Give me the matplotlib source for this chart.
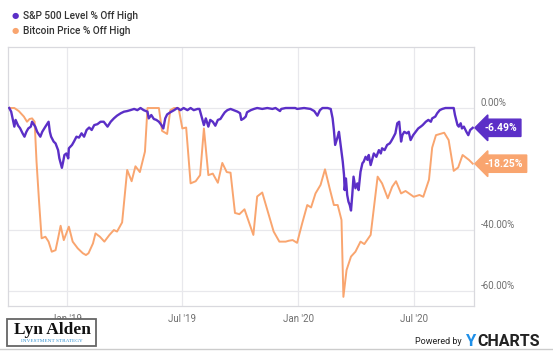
import numpy as np
import pandas as pd
import matplotlib
matplotlib.use("Agg")
import matplotlib.pyplot as plt
from matplotlib.patches import Rectangle

plt.rcParams['font.family'] = ['Roboto', 'DejaVu Sans']

# S&P 500 level, % off high
spx_dates = [
    "2018-10-02", "2018-10-05", "2018-10-10", "2018-10-12", "2018-10-16", "2018-10-19",
    "2018-10-23", "2018-10-26", "2018-10-29", "2018-11-01", "2018-11-05", "2018-11-07",
    "2018-11-12", "2018-11-15", "2018-11-20", "2018-11-23", "2018-11-28", "2018-12-03",
    "2018-12-05", "2018-12-07", "2018-12-11", "2018-12-14", "2018-12-18", "2018-12-20",
    "2018-12-24", "2018-12-26", "2018-12-28", "2018-12-31", "2019-01-03", "2019-01-04",
    "2019-01-09", "2019-01-12", "2019-01-16", "2019-01-20", "2019-01-24", "2019-01-28",
    "2019-02-01", "2019-02-05", "2019-02-09", "2019-02-13", "2019-02-18", "2019-02-23",
    "2019-02-28", "2019-03-06", "2019-03-11", "2019-03-16", "2019-03-21", "2019-03-27",
    "2019-04-01", "2019-04-06", "2019-04-11", "2019-04-17", "2019-04-22", "2019-04-27",
    "2019-05-02", "2019-05-08", "2019-05-10", "2019-05-14", "2019-05-18", "2019-05-22",
    "2019-05-26", "2019-05-30", "2019-06-02", "2019-06-05", "2019-06-08", "2019-06-13",
    "2019-06-19", "2019-06-24", "2019-06-29", "2019-07-04", "2019-07-10", "2019-07-15",
    "2019-07-20", "2019-07-26", "2019-07-29", "2019-08-02", "2019-08-05", "2019-08-08",
    "2019-08-12", "2019-08-15", "2019-08-19", "2019-08-23", "2019-08-27", "2019-08-31",
    "2019-09-04", "2019-09-07", "2019-09-11", "2019-09-16", "2019-09-21", "2019-09-27",
    "2019-10-01", "2019-10-03", "2019-10-07", "2019-10-10", "2019-10-12", "2019-10-18",
    "2019-10-23", "2019-10-28", "2019-11-05", "2019-11-13", "2019-11-21", "2019-11-26",
    "2019-12-03", "2019-12-05", "2019-12-12", "2019-12-20", "2019-12-27", "2019-12-30",
    "2020-01-10", "2020-01-20", "2020-01-26", "2020-01-31", "2020-02-04", "2020-02-08",
    "2020-02-16", "2020-02-21", "2020-02-24", "2020-02-26", "2020-02-28", "2020-03-03",
    "2020-03-05", "2020-03-09", "2020-03-11", "2020-03-13", "2020-03-14", "2020-03-16",
    "2020-03-18", "2020-03-20", "2020-03-22", "2020-03-24", "2020-03-26", "2020-03-28",
    "2020-03-31", "2020-04-03", "2020-04-05", "2020-04-08", "2020-04-11", "2020-04-13",
    "2020-04-16", "2020-04-19", "2020-04-21", "2020-04-24", "2020-04-27", "2020-04-29",
    "2020-05-03", "2020-05-07", "2020-05-10", "2020-05-12", "2020-05-16", "2020-05-20",
    "2020-05-24", "2020-05-26", "2020-05-29", "2020-06-02", "2020-06-05", "2020-06-08",
    "2020-06-11", "2020-06-13", "2020-06-16", "2020-06-20", "2020-06-23", "2020-06-26",
    "2020-06-30", "2020-07-04", "2020-07-08", "2020-07-12", "2020-07-15", "2020-07-20",
    "2020-07-24", "2020-07-28", "2020-07-30", "2020-08-04", "2020-08-07", "2020-08-11",
    "2020-08-15", "2020-08-20", "2020-08-28", "2020-09-02", "2020-09-04", "2020-09-08",
    "2020-09-10", "2020-09-13", "2020-09-15", "2020-09-18", "2020-09-22", "2020-09-25",
    "2020-09-28", "2020-10-02",
]
spx_vals = [
    0.0, -1.2, -6.1, -3.9, -5.8, -6.6,
    -8.3, -9.4, -7.8, -6.7, -6.1, -4.5,
    -6.1, -7.8, -9.4, -7.8, -6.1, -4.5,
    -7.8, -9.4, -11.0, -11.6, -13.8, -16.5,
    -19.6, -17.6, -15.4, -14.9, -16.5, -13.2,
    -12.1, -11.0, -9.4, -9.7, -8.3, -9.4,
    -7.2, -6.4, -7.2, -5.6, -5.3, -4.5,
    -4.5, -6.1, -4.5, -3.4, -2.5, -1.7,
    -1.2, -1.0, -0.7, -0.3, -0.7, 0.0,
    -0.7, -1.2, -3.4, -2.3, -3.6, -3.9,
    -4.5, -5.6, -6.7, -3.4, -2.1, -1.4,
    -0.7, 0.0, -0.7, 0.0, -0.7, 0.0,
    -0.7, -0.3, -0.3, -3.4, -5.6, -3.4,
    -6.1, -3.9, -4.5, -5.8, -3.9, -3.6,
    -2.3, -1.4, -0.7, -0.3, -0.7, -1.2,
    -1.7, -3.9, -3.4, -2.8, -1.4, -0.7,
    -0.3, 0.0, -0.3, 0.0, -0.3, 0.0,
    -1.0, -0.3, 0.0, 0.0, 0.0, -0.3,
    0.0, -0.3, -1.0, -2.5, -0.7, 0.0,
    0.0, -0.3, -3.4, -7.2, -12.1, -9.4,
    -7.8, -14.3, -17.6, -22.0, -26.9, -23.1,
    -28.5, -30.7, -31.8, -33.6, -28.5, -22.5,
    -26.3, -24.7, -26.9, -20.9, -18.1, -17.6,
    -16.0, -17.0, -15.4, -18.7, -16.5, -14.9,
    -16.0, -13.8, -14.9, -13.2, -13.8, -12.1,
    -11.6, -11.0, -9.9, -8.3, -5.0, -4.5,
    -11.0, -8.9, -7.8, -8.3, -7.8, -10.5,
    -8.9, -7.8, -6.7, -6.1, -5.6, -4.5,
    -3.9, -4.5, -3.4, -2.8, -1.7, -0.7,
    -0.3, 0.0, 0.0, 0.0, -2.3, -5.6,
    -6.1, -5.0, -6.7, -6.1, -7.8, -8.9,
    -7.2, -6.49,
]

# Bitcoin price, % off high
btc_dates = [
    "2018-10-02", "2018-10-10", "2018-10-17", "2018-10-25", "2018-10-30", "2018-11-03",
    "2018-11-07", "2018-11-11", "2018-11-14", "2018-11-18", "2018-11-22", "2018-11-28",
    "2018-12-03", "2018-12-08", "2018-12-14", "2018-12-18", "2018-12-22", "2018-12-27",
    "2019-01-04", "2019-01-10", "2019-01-18", "2019-01-26", "2019-01-31", "2019-02-04",
    "2019-02-11", "2019-02-15", "2019-02-22", "2019-03-01", "2019-03-09", "2019-03-16",
    "2019-03-21", "2019-03-29", "2019-04-06", "2019-04-13", "2019-04-19", "2019-04-26",
    "2019-05-04", "2019-05-08", "2019-05-16", "2019-05-26", "2019-05-31", "2019-06-08",
    "2019-06-13", "2019-06-19", "2019-06-26", "2019-07-02", "2019-07-08", "2019-07-15",
    "2019-07-23", "2019-07-30", "2019-08-05", "2019-08-12", "2019-08-19", "2019-08-27",
    "2019-09-03", "2019-09-10", "2019-09-16", "2019-09-23", "2019-09-30", "2019-10-08",
    "2019-10-22", "2019-10-28", "2019-11-05", "2019-11-13", "2019-11-23", "2019-12-02",
    "2019-12-12", "2019-12-17", "2019-12-23", "2019-12-30", "2020-01-07", "2020-01-15",
    "2020-01-21", "2020-01-28", "2020-02-05", "2020-02-12", "2020-02-20", "2020-02-26",
    "2020-03-03", "2020-03-09", "2020-03-12", "2020-03-17", "2020-03-24", "2020-03-31",
    "2020-04-08", "2020-04-14", "2020-04-24", "2020-05-05", "2020-05-12", "2020-05-21",
    "2020-05-28", "2020-06-03", "2020-06-11", "2020-06-18", "2020-07-01", "2020-07-10",
    "2020-07-16", "2020-07-25", "2020-07-30", "2020-08-05", "2020-08-18", "2020-08-25",
    "2020-09-02", "2020-09-09", "2020-09-16", "2020-09-26", "2020-10-02",
]
btc_vals = [
    0.0, 0.0, -1.0, -2.8, -4.5, -3.6,
    -3.4, -4.5, -17.6, -30.7, -42.7, -42.2,
    -43.8, -47.1, -46.6, -42.7, -38.6, -43.3,
    -38.9, -43.8, -46.0, -47.6, -48.2, -47.6,
    -44.4, -41.1, -42.2, -43.8, -41.6, -40.0,
    -40.5, -37.5, -20.3, -24.0, -19.1, -21.0,
    -14.3, 0.0, 0.0, 0.0, -7.5, -8.5,
    -0.7, 0.0, 0.0, -6.7, -6.4, -24.7,
    -24.0, -22.0, -6.7, -22.0, -21.5, -24.5,
    -18.0, -21.0, -21.2, -34.4, -34.8, -33.2,
    -41.6, -29.0, -27.7, -33.4, -40.5, -43.8,
    -43.8, -43.5, -43.3, -44.2, -37.8, -31.8,
    -32.6, -28.0, -25.2, -20.1, -26.9, -31.8,
    -31.8, -36.7, -61.9, -53.1, -48.7, -47.1,
    -43.8, -44.6, -41.6, -22.5, -24.7, -29.6,
    -25.8, -24.0, -28.0, -27.2, -29.1, -28.5,
    -29.1, -23.5, -13.0, -8.9, -8.1, -10.5,
    -20.6, -19.5, -15.4, -17.0, -18.25,
]

series_names = ["S&P 500 Level % Off High", "Bitcoin Price % Off High"]
y_ticks = [0, -20, -40, -60]
y_ticklabels = ["0.00%", "", "-40.00%", "-60.00%"]
x_ticks = ["2019-01-01", "2019-07-01", "2020-01-01", "2020-07-01"]
x_ticklabels = ["Jan '19", "Jul '19", "Jan '20", "Jul '20"]

purple = "#5b2fc7"
orange = "#f9a56f"
grid_c = "#e8e8ec"
tick_c = "#6f6f6f"

spx_x = pd.to_datetime(spx_dates)
btc_x = pd.to_datetime(btc_dates)

fig = plt.figure(figsize=(5.53, 3.53), dpi=100)
ax = fig.add_axes([8 / 553, 1 - 306 / 353, 466 / 553, 259 / 353])

ax.plot(btc_x, btc_vals, color=orange, lw=1.4, zorder=3)
ax.plot(spx_x, spx_vals, color=purple, lw=1.7, zorder=4)

ax.set_ylim(-64.9, 20)
ax.set_xlim(pd.Timestamp("2018-09-30"), pd.Timestamp("2020-10-04"))

ax.set_yticks(y_ticks)
ax.set_yticklabels(y_ticklabels)
ax.yaxis.tick_right()
ax.tick_params(axis="y", length=0, pad=5, labelsize=7, labelcolor=tick_c)
for lab in ax.get_yticklabels():
    lab.set_va("bottom")

ax.set_xticks(pd.to_datetime(x_ticks))
ax.set_xticklabels(x_ticklabels)
ax.tick_params(axis="x", length=0, pad=6, labelsize=7, labelcolor=tick_c)

ax.grid(True, color=grid_c, lw=0.9, zorder=0)
for s in ax.spines.values():
    s.set_color("#d9d9de")
    s.set_linewidth(0.9)

# end-value tags just right of the plot edge
for xs, vs, c in [(spx_x, spx_vals, purple), (btc_x, btc_vals, orange)]:
    ax.annotate(f"{vs[-1]:.2f}%", xy=(xs[-1], vs[-1]), xytext=(8.5, 0),
                textcoords="offset points", color="white", fontsize=7.5,
                fontweight="bold", va="center", ha="left", annotation_clip=False,
                zorder=6,
                bbox=dict(boxstyle="larrow,pad=0.35", fc=c, ec=c))

# legend
for i, (name, c) in enumerate(zip(series_names, [purple, orange])):
    yy = 1 - (16 + 15 * i) / 353
    fig.text(15 / 553, yy, "\u25CF", color=c, fontsize=6, ha="center", va="center")
    fig.text(23 / 553, yy, name, color="#333333", fontsize=7.3, ha="left", va="center",
             fontweight="medium")

# Lyn Alden logo (covers the lower part of the first x label, as in the source)
logo = Rectangle((7 / 553, 1 - 346 / 353), 89 / 553, 27 / 353,
                 transform=fig.transFigure, fc="white", ec="#666666", lw=1.3, zorder=10)
fig.add_artist(logo)
fig.text(52 / 553, 1 - 329.5 / 353, "Lyn Alden", family=["Liberation Serif", "DejaVu Serif"],
         fontsize=12.5, fontweight="bold", ha="center", va="center", color="#111111",
         zorder=11)
fig.text(52 / 553, 1 - 340.5 / 353, "INVESTMENT STRATEGY", family=["Liberation Serif", "DejaVu Serif"],
         fontsize=3.8, ha="center", va="center", color="#2f8fd0", zorder=11)

# Powered by YCHARTS
fig.text(462 / 553, 1 - 342 / 353, "Powered by", fontsize=6.5, ha="right", va="center",
         color="#222222")
fig.text(465 / 553, 1 - 341 / 353, "Y", fontsize=12, fontweight="bold", ha="left",
         va="center", color="#1e8fe8")
fig.text(477 / 553, 1 - 341 / 353, "CHARTS", fontsize=11.5, fontweight="bold", ha="left",
         va="center", color="#222222")

fig.add_artist(plt.Line2D([0, 1], [1 - 349 / 353] * 2, transform=fig.transFigure,
                          color="#cccccc", lw=1))

fig.savefig("out.png", dpi=100)
